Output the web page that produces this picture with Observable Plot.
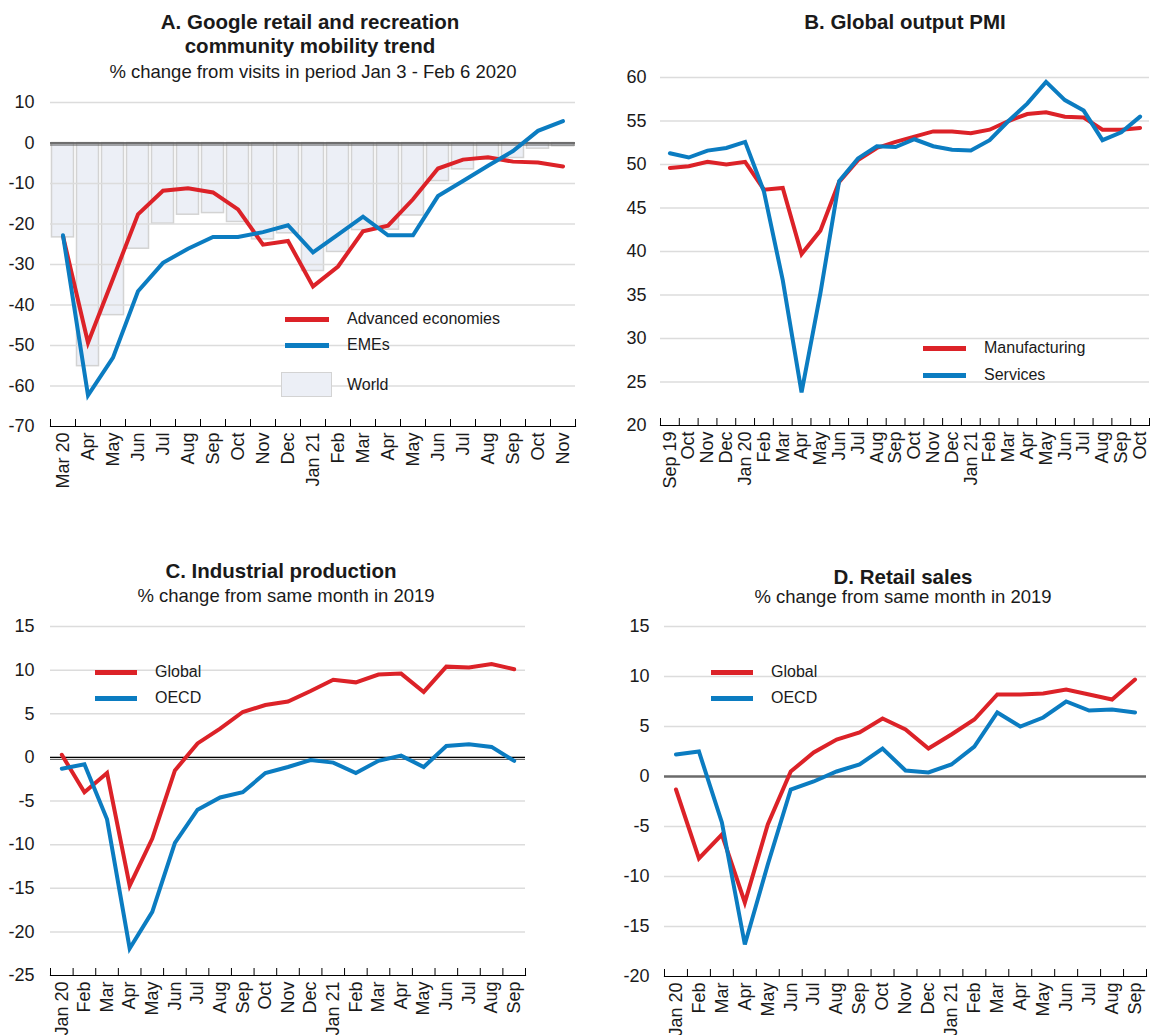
<!DOCTYPE html>
<html>
<head>
<meta charset="utf-8">
<script src="https://cdn.jsdelivr.net/npm/d3@7"></script>
<script src="https://cdn.jsdelivr.net/npm/@observablehq/plot@0.6"></script>
<style>
  html, body { margin: 0; padding: 0; background: #fff; }
  body { width: 1150px; height: 1035px; position: relative; overflow: hidden;
         font-family: "Liberation Sans", Arial, sans-serif; color: #1a1a1a; }
  .abs { position: absolute; }
  .title { font-weight: bold; font-size: 20.5px; line-height: 24px; text-align: center; white-space: nowrap; }
  .sub { font-size: 18.5px; line-height: 22px; text-align: center; white-space: nowrap; }
  .lg { font-size: 16px; line-height: 18px; white-space: nowrap; }
  .sw { height: 5px; }
</style>
</head>
<body>
<div id="root"></div>
<script>
// ---------- Panel A: Google mobility ----------
const labelsA = ["Mar 20","Apr","May","Jun","Jul","Aug","Sep","Oct","Nov","Dec","Jan 21","Feb","Mar","Apr","May","Jun","Jul","Aug","Sep","Oct","Nov"];
const worldA = [-23.3,-55.1,-42.5,-26.1,-19.9,-17.7,-17.3,-19.5,-23.8,-22.3,-31.6,-26.9,-21.5,-21.4,-17.9,-9.4,-6.5,-4.1,-3.7,-1.4,-0.8];
const advA = [-23,-49.3,-33.5,-17.6,-11.8,-11.2,-12.2,-16.4,-25.1,-24.2,-35.4,-30.5,-21.8,-20.4,-13.9,-6.3,-4.1,-3.5,-4.6,-4.8,-5.8];
const emeA = [-22.8,-62.3,-53,-36.6,-29.6,-26.1,-23.2,-23.2,-22,-20.3,-27,-22.6,-18.2,-22.8,-22.8,-13.1,-9.4,-5.6,-2,3,5.4];
const yTicksA = [10,0,-10,-20,-30,-40,-50,-60,-70];

// ---------- Panel B: Global output PMI ----------
const labelsB = ["Sep 19","Oct","Nov","Dec","Jan 20","Feb","Mar","Apr","May","Jun","Jul","Aug","Sep","Oct","Nov","Dec","Jan 21","Feb","Mar","Apr","May","Jun","Jul","Aug","Sep","Oct"];
const mfgB = [49.6,49.8,50.3,50.0,50.3,47.1,47.3,39.7,42.4,48.0,50.5,51.9,52.6,53.2,53.8,53.8,53.6,54.0,55.0,55.8,56.0,55.5,55.4,54.0,54.0,54.2];
const svcB = [51.3,50.8,51.6,51.9,52.6,46.9,36.7,23.8,35.2,48.1,50.7,52.1,52.0,52.9,52.1,51.7,51.6,52.8,55.0,57.0,59.5,57.4,56.2,52.8,53.7,55.5];
const yTicksB = [20,25,30,35,40,45,50,55,60];

// ---------- Panel C: Industrial production ----------
const labelsC = ["Jan 20","Feb","Mar","Apr","May","Jun","Jul","Aug","Sep","Oct","Nov","Dec","Jan 21","Feb","Mar","Apr","May","Jun","Jul","Aug","Sep"];
const globC = [0.3,-4.0,-1.8,-14.7,-9.3,-1.5,1.6,3.3,5.2,6.0,6.4,7.6,8.9,8.6,9.5,9.6,7.5,10.4,10.3,10.7,10.1];
const oecdC = [-1.3,-0.8,-7.1,-21.9,-17.7,-9.8,-6.0,-4.6,-4.0,-1.8,-1.1,-0.3,-0.6,-1.8,-0.4,0.2,-1.1,1.3,1.5,1.2,-0.4];
const yTicksC = [15,10,5,0,-5,-10,-15,-20,-25];

// ---------- Panel D: Retail sales ----------
const labelsD = ["Jan 20","Feb","Mar","Apr","May","Jun","Jul","Aug","Sep","Oct","Nov","Dec","Jan 21","Feb","Mar","Apr","May","Jun","Jul","Aug","Sep"];
const globD = [-1.3,-8.2,-5.8,-12.6,-4.8,0.5,2.4,3.7,4.4,5.8,4.7,2.8,4.2,5.7,8.2,8.2,8.3,8.7,8.2,7.7,9.7];
const oecdD = [2.2,2.5,-4.6,-16.8,-8.8,-1.3,-0.5,0.5,1.2,2.8,0.6,0.4,1.2,3.0,6.4,5.0,5.9,7.5,6.6,6.7,6.4];
const yTicksD = [15,10,5,0,-5,-10,-15,-20];

const RED = "#dc2228";
const BLUE = "#0b7cc1";
const GRID = "#dcdcdc";
const BARFILL = "#eceff6";
const BARSTROKE = "#d3d3d3";
const FONT = "'Liberation Sans', Arial, sans-serif";

function makePanel(cfg) {
  const {labels, series, bars, yTicks, grid, zero, width, height, ml, mr, mt, mb, padY} = cfg;
  const n = labels.length;
  const centers = labels.map((_, i) => i + 0.5);
  const plotH = height - mt - mb;
  const marks = [];
  if (bars) {
    marks.push(Plot.rect(bars, {
      x1: (d, i) => i, x2: (d, i) => i + 1, y1: 0, y2: d => d,
      fill: BARFILL, stroke: BARSTROKE, strokeWidth: 1.5, insetLeft: 1.5, insetRight: 1.5
    }));
  }
  marks.push(Plot.ruleY(grid, {stroke: GRID, strokeWidth: 1.5}));
  if (zero === "black") {
    marks.push(Plot.ruleY([0], {stroke: "#000", strokeWidth: 1.2}));
    marks.push(Plot.ruleY([0], {stroke: "#555", strokeWidth: 1, dy: 2}));
  } else if (zero === "gray") {
    marks.push(Plot.ruleY([0], {stroke: "#6a6a6a", strokeWidth: 2.6}));
  }
  marks.push(Plot.frame({anchor: "bottom", stroke: "#000", strokeWidth: 1.2}));
  marks.push(Plot.tickX(d3.range(n + 1), {x: d => d, stroke: "#000", strokeWidth: 1, insetTop: plotH - 7}));
  for (const s of series) {
    marks.push(Plot.line(s.values, {x: (d, i) => i + 0.5, y: d => d, stroke: s.color, strokeWidth: 4, strokeLinejoin: "miter", strokeMiterlimit: 4}));
  }
  marks.push(Plot.axisY({ticks: yTicks, tickFormat: d => String(d), tickSize: 0, tickPadding: padY, label: null, fontSize: 18}));
  marks.push(Plot.axisX({ticks: centers, tickFormat: d => labels[Math.round(d - 0.5)], tickRotate: -90, tickSize: 0, tickPadding: 6, label: null, fontSize: 18}));
  return Plot.plot({
    width, height, marginLeft: ml, marginRight: mr, marginTop: mt, marginBottom: mb,
    x: {type: "linear", domain: [0, n]},
    y: {type: "linear", domain: [Math.min(...yTicks), Math.max(...yTicks)]},
    style: {fontSize: "18px", fontFamily: FONT, color: "#1a1a1a", background: "transparent", overflow: "visible"},
    marks
  });
}

const root = document.getElementById("root");
function place(el, left, top) {
  el.style.position = "absolute";
  el.style.left = left + "px";
  el.style.top = top + "px";
  root.appendChild(el);
}
function html(cls, text, left, top, width, lineHeight) {
  const d = document.createElement("div");
  d.className = "abs " + cls;
  d.textContent = text;
  d.style.left = left + "px";
  d.style.top = top + "px";
  if (width) d.style.width = width + "px";
  if (lineHeight) d.style.lineHeight = lineHeight + "px";
  root.appendChild(d);
  return d;
}
function swatchLine(color, left, y, w) {
  const d = document.createElement("div");
  d.className = "abs sw";
  d.style.background = color;
  d.style.left = left + "px";
  d.style.top = (y - 2.5) + "px";
  d.style.width = w + "px";
  root.appendChild(d);
}
function swatchBox(left, top, w, h) {
  const d = document.createElement("div");
  d.className = "abs";
  d.style.background = BARFILL;
  d.style.border = "1.5px solid " + BARSTROKE;
  d.style.left = left + "px";
  d.style.top = top + "px";
  d.style.width = w + "px";
  d.style.height = h + "px";
  d.style.boxSizing = "border-box";
  root.appendChild(d);
}

// Panel A
place(makePanel({
  labels: labelsA, bars: worldA,
  series: [{values: advA, color: RED}, {values: emeA, color: BLUE}],
  yTicks: yTicksA, grid: [10,0,-10,-20,-30,-40,-50,-60], zero: "black",
  width: 580, height: 406, ml: 50, mr: 5, mt: 12, mb: 70, padY: 16
}), 0, 90);
html("title", "A. Google retail and recreation", 10, 10, 600);
html("title", "community mobility trend", 10, 34, 600);
html("sub", "% change from visits in period Jan 3 - Feb 6 2020", 13, 61, 600);
swatchLine(RED, 285, 319, 44);
html("lg", "Advanced economies", 347, 310);
swatchLine(BLUE, 285, 345, 44);
html("lg", "EMEs", 347, 336);
swatchBox(281, 372, 51, 25);
html("lg", "World", 347, 376);

// Panel B
place(makePanel({
  labels: labelsB,
  series: [{values: mfgB, color: RED}, {values: svcB, color: BLUE}],
  yTicks: yTicksB, grid: [25,30,35,40,45,50,55,60], zero: null,
  width: 550, height: 430, ml: 60, mr: 1, mt: 12, mb: 70, padY: 14
}), 600, 65);
html("title", "B. Global output PMI", 605, 10, 600);
swatchLine(RED, 923, 348, 43);
html("lg", "Manufacturing", 984, 339);
swatchLine(BLUE, 923, 375, 43);
html("lg", "Services", 984, 366);

// Panel C
place(makePanel({
  labels: labelsC,
  series: [{values: globC, color: RED}, {values: oecdC, color: BLUE}],
  yTicks: yTicksC, grid: [15,10,5,0,-5,-10,-15,-20], zero: "black",
  width: 530, height: 431, ml: 50, mr: 5, mt: 12, mb: 70, padY: 16
}), 0, 614);
html("title", "C. Industrial production", -19, 560, 600, 22);
html("sub", "% change from same month in 2019", -14, 587, 600, 18);
swatchLine(RED, 95, 672, 42);
html("lg", "Global", 155, 663);
swatchLine(BLUE, 95, 698, 42);
html("lg", "OECD", 155, 689);

// Panel D
place(makePanel({
  labels: labelsD,
  series: [{values: globD, color: RED}, {values: oecdD, color: BLUE}],
  yTicks: yTicksD, grid: [15,10,5,-5,-10,-15], zero: "gray",
  width: 548, height: 432, ml: 64, mr: 2, mt: 12, mb: 70, padY: 15
}), 600, 614);
html("title", "D. Retail sales", 603, 566, 600, 22);
html("sub", "% change from same month in 2019", 603, 588, 600, 18);
swatchLine(RED, 711, 672, 42);
html("lg", "Global", 771, 663);
swatchLine(BLUE, 711, 698, 42);
html("lg", "OECD", 771, 689);
</script>
</body>
</html>
